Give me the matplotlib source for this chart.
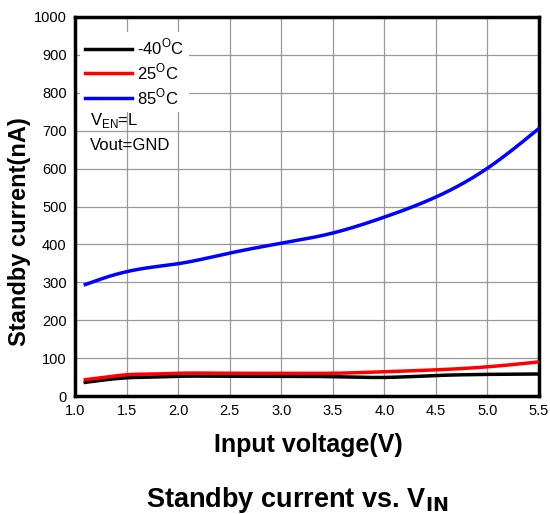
import matplotlib
matplotlib.use("Agg")
import matplotlib.pyplot as plt
import numpy as np

plt.rcParams['font.family'] = ['Liberation Sans', 'DejaVu Sans']

vin = [1.1, 1.3, 1.5, 1.75, 2.0, 2.5, 3.0, 3.5, 4.0, 4.5, 5.0, 5.5]
i_m40 = [36, 43, 48, 50, 52, 52, 52, 51, 49, 54, 57, 58]
i_25 = [43, 50, 56, 58, 60, 60, 60, 60, 64, 69, 77, 90]
i_85 = [294, 313, 328, 340, 349, 377, 403, 430, 472, 525, 601, 706]

labels = ['-40$^{\\mathregular{O}}$C', '25$^{\\mathregular{O}}$C', '85$^{\\mathregular{O}}$C']
colors = ['#000000', '#ff0000', '#0000ff']

xticks = [1.0, 1.5, 2.0, 2.5, 3.0, 3.5, 4.0, 4.5, 5.0, 5.5]
yticks = [0, 100, 200, 300, 400, 500, 600, 700, 800, 900, 1000]


def spline(x, y, n=300):
    # natural cubic spline
    x = np.asarray(x, float); y = np.asarray(y, float)
    N = len(x); h = np.diff(x)
    A = np.zeros((N, N)); b = np.zeros(N)
    A[0, 0] = 1; A[-1, -1] = 1
    for i in range(1, N - 1):
        A[i, i-1] = h[i-1]; A[i, i] = 2*(h[i-1] + h[i]); A[i, i+1] = h[i]
        b[i] = 3*((y[i+1]-y[i])/h[i] - (y[i]-y[i-1])/h[i-1])
    c = np.linalg.solve(A, b)
    xs = np.linspace(x[0], x[-1], n)
    ys = np.empty_like(xs)
    for j, xv in enumerate(xs):
        i = min(np.searchsorted(x, xv, side='right') - 1, N - 2)
        bi = (y[i+1]-y[i])/h[i] - h[i]*(2*c[i] + c[i+1])/3
        di = (c[i+1]-c[i])/(3*h[i])
        t = xv - x[i]
        ys[j] = y[i] + bi*t + c[i]*t**2 + di*t**3
    return xs, ys


fig = plt.figure(figsize=(5.5, 5.14), dpi=100)
ax = fig.add_axes([75/550, 1-396/514, 464/550, 379/514])

for y, lab, c in zip([i_m40, i_25, i_85], labels, colors):
    xs, ys = spline(vin, y)
    ax.plot(xs, ys, color=c, lw=2.5, label=lab, zorder=3)

ax.set_xlim(1.0, 5.5)
ax.set_ylim(0, 1000)
ax.set_xticks(xticks)
ax.set_xticklabels([f"{v:.1f}" for v in xticks])
ax.set_yticks(yticks)
ax.tick_params(length=0, labelsize=10.5, pad=6)
ax.grid(True, color='#999999', lw=0.9)
for s in ax.spines.values():
    s.set_linewidth(2.5)

leg = ax.legend(loc='upper left', frameon=True, fontsize=12, handlelength=2.8,
                handletextpad=0.3, borderpad=0.3, labelspacing=0.25,
                bbox_to_anchor=(0.0, 0.974), borderaxespad=0.3)
leg.get_frame().set_edgecolor('none')
leg.get_frame().set_facecolor('white')
leg.get_frame().set_alpha(1)

ax.text(0.032, 0.728, 'V$_{\\mathregular{EN}}$=L', transform=ax.transAxes, fontsize=12,
        va='center', ha='left', zorder=5)
ax.text(0.032, 0.66, 'Vout=GND', transform=ax.transAxes, fontsize=12,
        va='center', ha='left', zorder=5)

ax.set_xlabel('Input voltage(V)', fontsize=18, fontweight='bold')
ax.xaxis.set_label_coords(0.503, (396-445)/379)
ax.xaxis.label.set_va('center')
ax.set_ylabel('Standby current(nA)', fontsize=17, fontweight='bold')
ax.yaxis.set_label_coords((20-75)/464, (396-231.5)/379)
ax.yaxis.label.set_va('center')

fig.text(297/550, 1-500/514, 'Standby current vs. V$_{\\mathbf{IN}}$', ha='center', va='center',
         fontsize=19.5, fontweight='bold')

fig.savefig('out.png', dpi=100)
